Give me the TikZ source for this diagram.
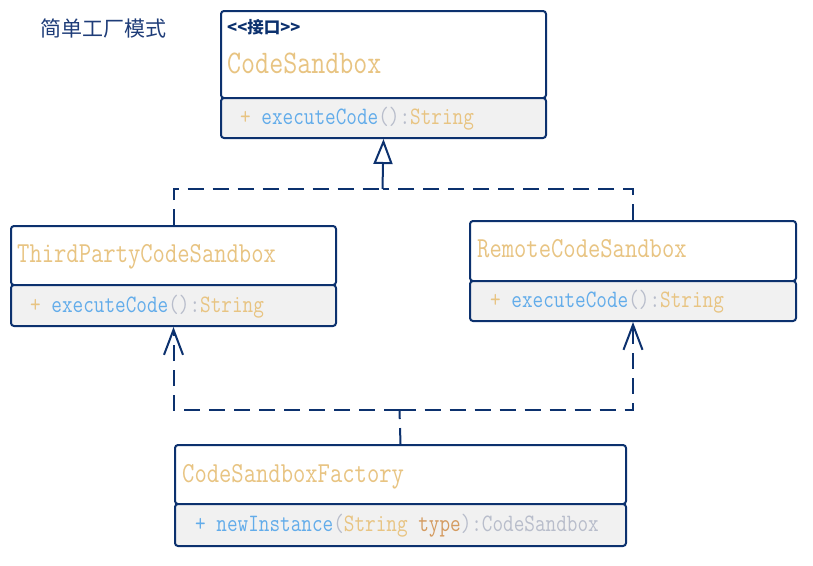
\documentclass[tikz,border=0pt]{standalone}
\usepackage{fontspec}
\usepackage{graphicx}
\usetikzlibrary{arrows.meta}
\newfontfamily\cjk{Noto Sans CJK SC}
\definecolor{navy}{HTML}{0C316E}
\definecolor{titlec}{HTML}{1E3C78}
\definecolor{cgold}{HTML}{E8C482}
\definecolor{cblue}{HTML}{62ACEA}
\definecolor{cgrey}{HTML}{B8BDCB}
\definecolor{ctype}{HTML}{D49B60}
\definecolor{cfill}{HTML}{F1F1F1}
\tikzset{
  hdr/.style={draw=navy, line width=2pt, fill=white, rounded corners=3pt, anchor=north west, inner sep=0pt},
  cmp/.style={draw=navy, line width=2pt, fill=cfill, rounded corners=3pt, anchor=north west, inner sep=0pt},
  bigname/.style={anchor=base west, inner sep=0pt, text=cgold, font=\fontsize{33}{33}\selectfont\ttfamily},
  cname/.style={anchor=base west, inner sep=0pt, text=cgold, font=\fontsize{29}{29}\selectfont\ttfamily},
  meth/.style={anchor=base west, inner sep=0pt, font=\fontsize{25}{25}\selectfont\ttfamily},
  dep/.style={draw=navy, line width=2pt, dash pattern=on 16pt off 9pt},
  link/.style={draw=navy, line width=2pt},
  realize/.style={-{Triangle[open, length=25pt, width=19pt]}},
  uses/.style={-{Straight Barb[length=25pt, width=19pt]}}
}
\newcommand\nx[1]{\scalebox{0.825}[1]{#1}}
\begin{document}
\begin{tikzpicture}[x=1pt, y=-1pt]
\useasboundingbox (0,0) rectangle (813,565);
% title
\node[anchor=west, inner sep=0pt, text=titlec, font=\fontsize{21}{21}\selectfont\cjk] (title) at (40,29) {简单工厂模式};
% CodeSandbox
\node[hdr, minimum width=325pt, minimum height=87pt] (csH) at (220,10) {};
\node[cmp, minimum width=325pt, minimum height=40pt] (csM) at (220,97) {};
\node[anchor=base west, inner sep=0pt, text=navy, font=\fontsize{16.5}{16.5}\selectfont\cjk\bfseries] (csS) at (227,33) {<<接口>>};
\node[bigname] (csN) at (227,73) {\nx{CodeSandbox}};
\node[meth] (csT) at (240,124) {\nx{\textcolor{cgold}{+} \textcolor{cblue}{executeCode}\textcolor{cgrey}{():}\textcolor{cgold}{String}}};
% ThirdPartyCodeSandbox
\node[hdr, minimum width=325pt, minimum height=59pt] (tpH) at (10,225) {};
\node[cmp, minimum width=325pt, minimum height=41pt] (tpM) at (10,284) {};
\node[cname] (tpN) at (17,262) {\nx{ThirdPartyCodeSandbox}};
\node[meth] (tpT) at (30,312) {\nx{\textcolor{cgold}{+} \textcolor{cblue}{executeCode}\textcolor{cgrey}{():}\textcolor{cgold}{String}}};
% RemoteCodeSandbox
\node[hdr, minimum width=326pt, minimum height=60pt] (rmH) at (469,220) {};
\node[cmp, minimum width=326pt, minimum height=40pt] (rmM) at (469,280) {};
\node[cname] (rmN) at (477,257) {\nx{RemoteCodeSandbox}};
\node[meth] (rmT) at (490,307) {\nx{\textcolor{cgold}{+} \textcolor{cblue}{executeCode}\textcolor{cgrey}{():}\textcolor{cgold}{String}}};
% CodeSandboxFactory
\node[hdr, minimum width=451pt, minimum height=59pt] (fcH) at (174,444) {};
\node[cmp, minimum width=451pt, minimum height=42pt] (fcM) at (174,503) {};
\node[cname] (fcN) at (182,482) {\nx{CodeSandboxFactory}};
\node[meth] (fcT) at (195,531) {\nx{\textcolor{cblue}{+ newInstance}\textcolor{cgrey}{(}\textcolor{cgold}{String} \textcolor{ctype}{type}\textcolor{cgrey}{):CodeSandbox}}};
% realization connectors
\coordinate (j1) at (382.5,189);
\draw[dep] (tpH.north) |- (j1);
\draw[dep] (rmH.north) |- (j1);
\draw[link, realize] (j1) -- (csM.south);
% dependency connectors
\coordinate (j2) at (399.5,410);
\draw[dep] (fcH.north) -- (j2);
\draw[dep, uses] (j2) -| (tpM.south);
\draw[dep, uses] (j2) -| (rmM.south);
\end{tikzpicture}
\end{document}
